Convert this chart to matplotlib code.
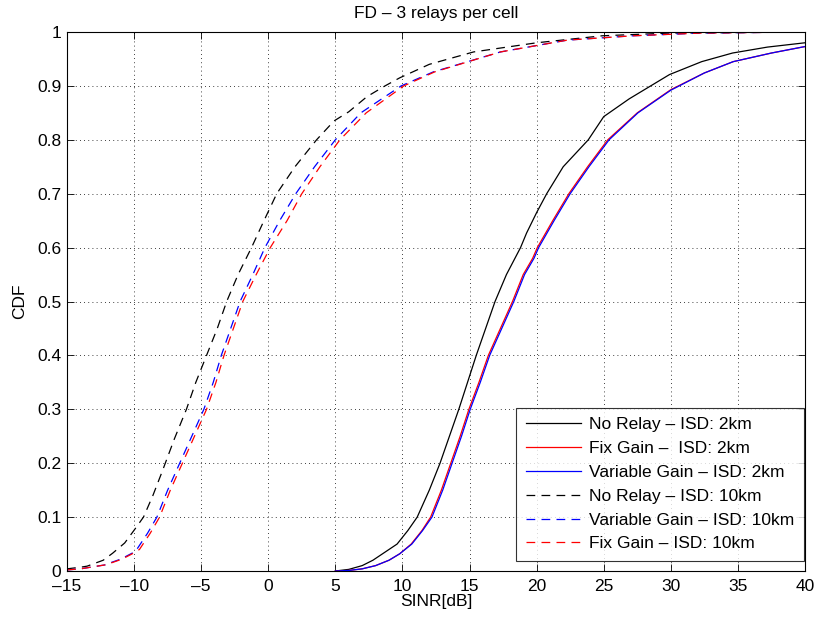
import matplotlib
matplotlib.use("Agg")
import matplotlib.pyplot as plt

plt.rcParams['font.family'] = ['Liberation Sans', 'DejaVu Sans']

# --- data (SINR [dB], CDF) ---
nr2_x = [5, 6, 7, 7.8, 8.7, 9.6, 10.4, 11.1, 12.0, 12.8, 13.5, 14.2, 14.85, 15.5, 16.2, 16.9,
         17.75, 18.8, 19.25, 20.0, 20.75, 21.98, 23.85, 25.0, 26.9, 29.9, 32.3, 34.6, 37.2, 40]
nr2_y = [0, 0.003, 0.01, 0.02, 0.035, 0.05, 0.075, 0.1, 0.15, 0.2, 0.25, 0.3, 0.35, 0.4, 0.45, 0.5,
         0.55, 0.6, 0.627, 0.665, 0.7, 0.75, 0.8, 0.843, 0.876, 0.921, 0.945, 0.961, 0.972, 0.98]

fg2_x = [5, 6, 7, 8, 9, 9.8, 10.65, 11.45, 12.1, 12.9, 13.6, 14.3, 14.95, 15.7, 16.4, 17.3,
         18.2, 19.0, 19.7, 20.05, 21.2, 22.4, 23.8, 25.3, 27.5, 30.0, 32.5, 34.65, 37.5, 40]
fg2_y = [0, 0.001, 0.004, 0.01, 0.02, 0.032, 0.05, 0.075, 0.1, 0.15, 0.2, 0.25, 0.3, 0.35, 0.4, 0.45,
         0.5, 0.55, 0.58, 0.6, 0.65, 0.7, 0.75, 0.8, 0.85, 0.893, 0.924, 0.945, 0.961, 0.973]

vg2_x = [5, 6, 7, 8, 9, 9.8, 10.7, 11.5, 12.2, 13.0, 13.7, 14.4, 15.05, 15.8, 16.5, 17.4,
         18.3, 19.1, 19.8, 20.15, 21.3, 22.5, 23.9, 25.4, 27.55, 30.0, 32.5, 34.65, 37.5, 40]
vg2_y = [0, 0.001, 0.004, 0.01, 0.02, 0.032, 0.05, 0.075, 0.1, 0.15, 0.2, 0.25, 0.3, 0.35, 0.4, 0.45,
         0.5, 0.55, 0.58, 0.6, 0.65, 0.7, 0.75, 0.8, 0.85, 0.892, 0.924, 0.945, 0.961, 0.973]

nr10_x = [-15, -14, -13.5, -12.3, -11.6, -10.7, -9.93, -9.3, -8.6, -7.9, -7.0, -6.1, -5.4, -4.6, -3.8,
          -3.1, -2.25, -1.25, -0.32, 0.63, 1.99, 3.6, 4.9, 6.0, 7.35, 8.7, 9.8, 12.0, 15.3, 20.0, 24.9, 29.9, 35, 40]
nr10_y = [0.004, 0.007, 0.009, 0.02, 0.033, 0.052, 0.078, 0.1, 0.14, 0.185, 0.245, 0.3, 0.35, 0.4, 0.45,
          0.5, 0.55, 0.6, 0.65, 0.7, 0.75, 0.8, 0.835, 0.852, 0.88, 0.9, 0.915, 0.94, 0.963, 0.98, 0.993, 0.998, 0.999, 1.0]

vg10_x = [-15, -14, -13.5, -12, -11.8, -11, -10, -9.8, -9, -8.3, -7.5, -6.6, -5.7, -4.8, -4.1, -3.5,
          -2.8, -2.1, -1.15, -0.25, 0.85, 2.05, 3.45, 5.0, 6.9, 9.9, 12.3, 17.3, 22.3, 27.2, 32.2, 40]
vg10_y = [0.002, 0.004, 0.006, 0.012, 0.015, 0.022, 0.035, 0.04, 0.07, 0.1, 0.15, 0.2, 0.25, 0.3, 0.35, 0.4,
          0.45, 0.5, 0.55, 0.6, 0.65, 0.7, 0.75, 0.8, 0.85, 0.9, 0.926, 0.963, 0.985, 0.993, 0.998, 1.0]

fg10_x = [-15, -14, -13.5, -12, -11.7, -10.9, -9.9, -9.6, -8.8, -8.1, -7.3, -6.4, -5.5, -4.6, -3.9, -3.3,
          -2.6, -1.9, -0.9, 0.15, 1.4, 2.5, 3.85, 5.34, 7.3, 10.1, 12.4, 17.3, 22.3, 27.2, 32.2, 40]
fg10_y = vg10_y

labels = ['No Relay \u2013 ISD: 2km', 'Fix Gain \u2013  ISD: 2km', 'Variable Gain \u2013 ISD: 2km',
          'No Relay \u2013 ISD: 10km', 'Variable Gain \u2013 ISD: 10km', 'Fix Gain \u2013 ISD: 10km']
xticks = [-15, -10, -5, 0, 5, 10, 15, 20, 25, 30, 35, 40]
yticks = [0, 0.1, 0.2, 0.3, 0.4, 0.5, 0.6, 0.7, 0.8, 0.9, 1]
yticklabels = ['0', '0.1', '0.2', '0.3', '0.4', '0.5', '0.6', '0.7', '0.8', '0.9', '1']

fs = 12.5
fig = plt.figure(figsize=(8.16, 6.22), dpi=100)
ax = fig.add_axes([67/816, 51/622, 738/816, 539/622])

lw = 0.9
dash = (0, (7, 5))
ax.plot(nr2_x, nr2_y, color='black', lw=lw, label=labels[0])
ax.plot(fg2_x, fg2_y, color='red', lw=lw, label=labels[1])
ax.plot(vg2_x, vg2_y, color='blue', lw=lw, label=labels[2])
ax.plot(nr10_x, nr10_y, color='black', lw=lw, ls=dash, label=labels[3])
ax.plot(vg10_x, vg10_y, color='blue', lw=lw, ls=dash, label=labels[4])
ax.plot(fg10_x, fg10_y, color='red', lw=lw, ls=dash, label=labels[5])

ax.set_xlim(-15, 40)
ax.set_ylim(0, 1)
ax.set_xticks(xticks)
ax.set_xticklabels([str(t).replace('-', '\u2013') for t in xticks])
ax.set_yticks(yticks)
ax.set_yticklabels(yticklabels)
ax.tick_params(direction='in', top=True, right=True, length=5, width=0.6, labelsize=fs)
ax.tick_params(axis='x', pad=6)
ax.tick_params(axis='y', pad=4)
for s in ax.spines.values():
    s.set_linewidth(0.8)
ax.grid(True, color='black', linestyle=(0, (1, 4)), linewidth=0.6)

ax.set_xlabel('SINR[dB]', fontsize=fs, labelpad=0)
ax.set_ylabel('CDF', fontsize=fs, labelpad=7)
ax.set_title('FD \u2013 3 relays per cell', fontsize=fs, pad=10)

leg = ax.legend(loc='lower right', bbox_to_anchor=(1 - 1/738, 10/539), fontsize=fs, frameon=True,
                fancybox=False, edgecolor='black', borderaxespad=0, handlelength=3.2,
                labelspacing=0.5, borderpad=0.55, handletextpad=0.45)
leg.get_frame().set_linewidth(0.8)

fig.savefig('out.png', dpi=100)
